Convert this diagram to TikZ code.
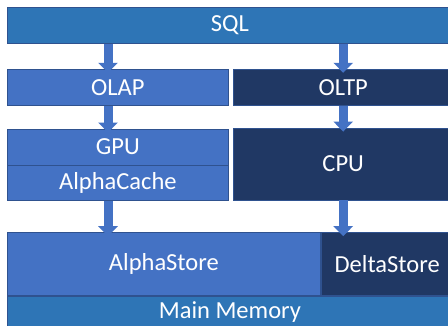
\documentclass[tikz,border=0pt]{standalone}
\usepackage{fontspec}
\setmainfont{Carlito}
\usepackage{xcolor}
\usetikzlibrary{positioning,arrows.meta}

\definecolor{sqlblue}{HTML}{2E75B6}
\definecolor{midblue}{HTML}{4472C4}
\definecolor{navy}{HTML}{203864}
\definecolor{edgeblue}{HTML}{2F528F}

\begin{document}
\begin{tikzpicture}[
    layer/.style={rectangle, draw=edgeblue, line width=0.8pt, text=white, inner sep=0pt,
        font=\fontsize{24.5}{29}\selectfont},
    blockarrow/.style={line width=9pt, draw=midblue, -{Triangle[width=19pt,length=10pt]}}
]
\useasboundingbox (0,0) rectangle (448pt,-326pt);

% Query layer
\node[layer, fill=sqlblue, minimum width=445pt, minimum height=36pt, anchor=north west] (sql) at (7pt,-7pt) {SQL};

% Engines
\node[layer, fill=midblue, minimum width=221pt, minimum height=36pt, below=25pt of sql.south west, anchor=north west] (olap) {OLAP};
\node[layer, fill=navy, minimum width=220pt, minimum height=36pt, right=4pt of olap.north east, anchor=north west] (oltp) {OLTP};

% Processors
\node[layer, fill=midblue, minimum width=221pt, minimum height=36pt, below=23pt of olap.south west, anchor=north west] (gpu) {GPU};
\node[layer, fill=midblue, minimum width=221pt, minimum height=35pt, below=0pt of gpu.south west, anchor=north west] (cache) {AlphaCache};
\node[layer, fill=navy, minimum width=220pt, minimum height=72pt, below=22pt of oltp.south west, anchor=north west] (cpu) {CPU};

% Storage
\node[layer, fill=midblue, minimum width=313pt, minimum height=63pt, below=31pt of cache.south west, anchor=north west] (astore) {AlphaStore};
\node[layer, fill=navy, minimum width=132pt, minimum height=63pt, right=0pt of astore.north east, anchor=north west] (dstore) {DeltaStore};
\node[layer, fill=sqlblue, minimum width=445pt, minimum height=32pt, below=0pt of astore.south west, anchor=north west] (mem) {Main Memory};

% Arrows
\draw[blockarrow] ([xshift=101pt]olap.north west |- sql.south) -- ([xshift=101pt,yshift=-4pt]olap.north west);
\draw[blockarrow] (oltp.north |- sql.south) -- ([yshift=-4pt]oltp.north);
\draw[blockarrow] ([xshift=101pt]olap.south west) -- ([xshift=101pt,yshift=-4pt]gpu.north west);
\draw[blockarrow] (oltp.south) -- ([yshift=-4pt]cpu.north);
\draw[blockarrow] ([xshift=101pt]cache.south west) -- ([xshift=101pt,yshift=-4pt]astore.north west);
\draw[blockarrow] (cpu.south) -- ([yshift=-4pt]cpu.south |- dstore.north);

\end{tikzpicture}
\end{document}
